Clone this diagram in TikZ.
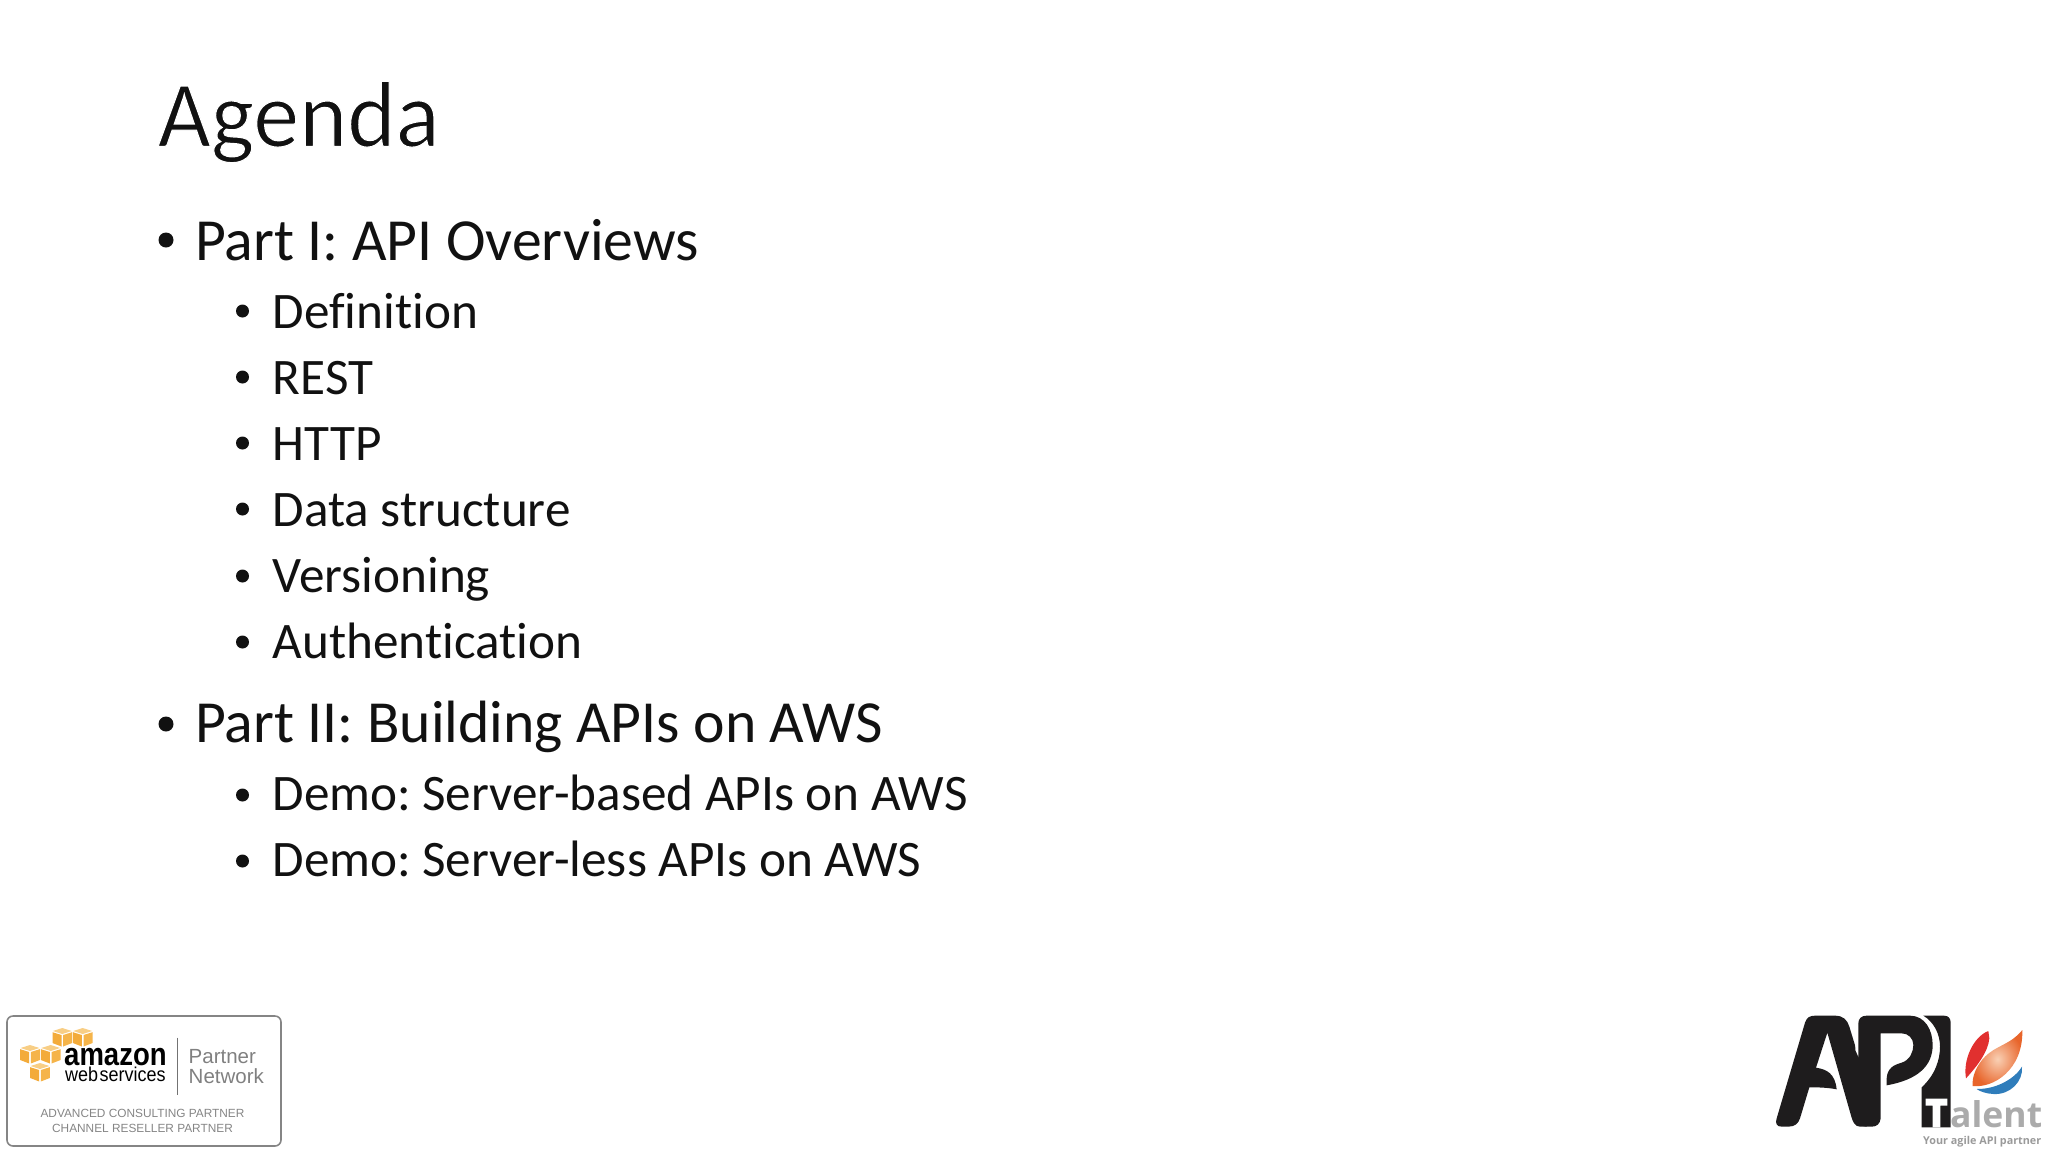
\documentclass[tikz,border=0pt]{standalone}
\usepackage{fontspec}
\usepackage{graphicx}
\setmainfont{Carlito}[RawFeature={-liga;-clig;-dlig}]
\newfontfamily\arialf{Liberation Sans}
\newfontfamily\opensf{Open Sans}
\definecolor{awslight}{HTML}{F8CE85}
\definecolor{awsleft}{HTML}{F3AB3A}
\definecolor{awsright}{HTML}{F5B44A}
\definecolor{txt}{HTML}{111111}
\definecolor{apiblack}{HTML}{1E1C1D}
\definecolor{talentgray}{HTML}{ABABAB}
\definecolor{flamered}{HTML}{E1302F}
\definecolor{flameblue}{HTML}{2F7DBB}
\definecolor{flameout}{HTML}{E8652B}
\definecolor{flamein}{HTML}{F9D0B4}
\tikzset{
  titletext/.style={anchor=base west,inner sep=0pt,text=txt,font=\fontsize{94}{94}\selectfont},
  lvlone/.style={anchor=base west,inner sep=0pt,text=txt,font=\fontsize{59.7}{60}\selectfont},
  lvltwo/.style={anchor=base west,inner sep=0pt,text=txt,font=\fontsize{51.2}{52}\selectfont},
  dotone/.style={circle,fill=txt,inner sep=0pt,minimum size=15pt},
  dottwo/.style={circle,fill=txt,inner sep=0pt,minimum size=13pt},
  smalllogo/.style={anchor=base,inner sep=0pt,text=black!48,font=\arialf\fontsize{11.85}{12}\selectfont},
  partnertext/.style={anchor=base west,inner sep=0pt,text=black!50,font=\arialf\fontsize{20.5}{21}\selectfont},
}
\newcommand{\awscube}[2]{%
  \begin{scope}[shift={(#1,#2)}]
    \fill[awslight] (-9.5,3)--(0,0)--(9.5,3)--(0,6)--cycle;
    \fill[awsleft] (-9.8,4.2)--(-0.8,7)--(-0.8,18.5)--(-9.8,15)--cycle;
    \fill[awsright] (9.8,4.2)--(0.8,7)--(0.8,18.5)--(9.8,15)--cycle;
  \end{scope}}
\newcommand{\thinstart}{\special{pdf:code 2 Tr 1 1 1 RG 1.1 w}}
\newcommand{\thinstop}{\special{pdf:code 0 Tr 0 0 0 RG 1 w}}
\begin{document}
\begin{tikzpicture}[x=1pt,y=-1pt]
\useasboundingbox (0,0) rectangle (2048,1152);
% main text
\node[titletext] (title) at (157.5,146.5) {\scalebox{0.977}[1]{\thinstart Agenda\thinstop}};
\node[dotone] (b1) at (166,240) {};
\node[lvlone] (p1) at (195,260.5) {Part I: API Overviews};
\node[dottwo] (b11) at (242.5,311) {};
\node[lvltwo] (t11) at (272.5,328.5) {Definition};
\node[dottwo] (b12) at (242.5,377) {};
\node[lvltwo] (t12) at (272.5,394.5) {REST};
\node[dottwo] (b13) at (242.5,443) {};
\node[lvltwo] (t13) at (272.5,460.5) {HTTP};
\node[dottwo] (b14) at (242.5,509) {};
\node[lvltwo] (t14) at (272.5,526.5) {Data structure};
\node[dottwo] (b15) at (242.5,576) {};
\node[lvltwo] (t15) at (272.5,592.5) {Versioning};
\node[dottwo] (b16) at (242.5,642) {};
\node[lvltwo] (t16) at (272.5,658.5) {Authentication};
\node[dotone] (b2) at (166,724) {};
\node[lvlone] (p2) at (195,742) {Part II: Building APIs on AWS};
\node[dottwo] (b21) at (242.5,795) {};
\node[lvltwo] (t21) at (272.5,810.5) {Demo:\kern-4.5pt{} Server-based APIs on AWS};
\node[dottwo] (b22) at (242.5,861) {};
\node[lvltwo] (t22) at (272.5,876.5) {Demo:\kern-4.5pt{} Server-less APIs on AWS};
% AWS badge
\draw[black!48,line width=1.6pt,rounded corners=6pt] (7,1016) rectangle (281,1146);
\awscube{62.3}{1028}\awscube{82.7}{1028}\awscube{30}{1045}\awscube{50.7}{1045}\awscube{40}{1063}
\node[anchor=base west,inner sep=0pt,text=black,font=\arialf\bfseries\fontsize{32}{32}\selectfont] (amazon) at (64,1065) {\scalebox{0.86}[1]{amazon}};
\node[anchor=base west,inner sep=0pt,text=black,font=\arialf\fontsize{20}{20}\selectfont] (webserv) at (65,1081) {\scalebox{0.9}[1]{web\kern1.5pt services}};
\draw[black!55,line width=1.5pt] (177.7,1037.5) -- (177.7,1095);
\node[partnertext] (partner) at (188.5,1063) {Partner};
\node[partnertext] (network) at (188.5,1083) {Network};
\node[smalllogo] (adv) at (142.5,1117) {ADVANCED CONSULTING PARTNER};
\node[smalllogo] (chan) at (142.5,1132.5) {CHANNEL RESELLER PARTNER};
% API logo: A
\begin{scope}[shift={(1770,1010)},x=0.3333pt,y=-0.3333pt]
\fill[apiblack] (20,325) -- (105,38) .. controls (110,22) and (120,17) .. (135,17) -- (195,17) .. controls (220,17) and (232,30) .. (238,50) -- (290,220) -- (290,350) -- (270,350) .. controls (255,350) and (248,335) .. (244,320) -- (172,68) -- (138,173) .. controls (170,178) and (195,190) .. (200,238) .. controls (170,232) and (140,232) .. (118,232) -- (90,325) .. controls (85,340) and (75,350) .. (55,350) -- (35,350) .. controls (20,350) and (15,340) .. (20,325) -- cycle;
\end{scope}
% API logo: P, I, T
\begin{scope}[shift={(1860,1010)},x=0.3333pt,y=-0.3333pt]
\fill[white] (-14,17) -- (-5,17) -- (-5,140) -- (-14,120) -- cycle;
\fill[apiblack] (-5,40) .. controls (-5,25) and (5,17) .. (20,17) -- (150,17) .. controls (195,17) and (218,60) .. (218,105) .. controls (218,170) and (170,210) .. (80,226) -- (80,205) .. controls (82,175) and (100,165) .. (125,158) .. controls (150,150) and (160,125) .. (160,105) .. controls (160,85) and (145,70) .. (125,70) -- (62,70) -- (62,325) .. controls (60,342) and (50,350) .. (35,350) -- (20,350) .. controls (5,350) and (-5,340) .. (-5,325) -- cycle;
\fill[apiblack] (190,17) -- (252,17) .. controls (265,17) and (272,25) .. (272,38) -- (272,352) -- (185,352) -- (185,232) .. controls (225,195) and (240,150) .. (240,110) .. controls (240,70) and (220,35) .. (190,17) -- cycle;
\fill[white] (197,266) -- (262,266) -- (262,287) -- (241,287) -- (241,352) -- (218,352) -- (218,287) -- (197,287) -- cycle;
\end{scope}
% flame
\begin{scope}[shift={(1960,1020)},x=0.3333pt,y=-0.3333pt]
\fill[flamered] (85,33) .. controls (40,50) and (8,120) .. (18,175) .. controls (50,140) and (85,95) .. (88,55) -- cycle;
\shade[inner color=flamein,outer color=flameout] (187,30) .. controls (150,75) and (110,75) .. (75,110) .. controls (50,135) and (35,170) .. (38,198) .. controls (100,205) and (190,150) .. (187,30) -- cycle;
\fill[flameblue] (50,207) .. controls (110,208) and (165,175) .. (186,140) .. controls (190,185) and (150,225) .. (100,222) .. controls (80,221) and (60,215) .. (50,207) -- cycle;
\end{scope}
\node[anchor=base west,inner sep=0pt,text=talentgray,font=\opensf\bfseries\fontsize{35.5}{36}\selectfont] (talent) at (1950,1127) {alent};
\node[anchor=base west,inner sep=0pt,text=talentgray!90!black,font=\opensf\bfseries\fontsize{10.8}{11}\selectfont] (tagline) at (1923,1144) {Your agile API partner};
\end{tikzpicture}
\end{document}
